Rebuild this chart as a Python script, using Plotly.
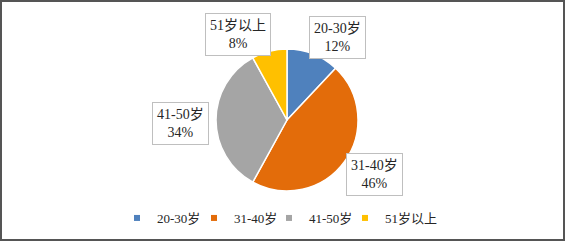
import plotly.graph_objects as go

categories = ["20-30岁", "31-40岁", "41-50岁", "51岁以上"]
values = [12, 46, 34, 8]
colors = ["#4F81BD", "#E36C0A", "#A5A5A5", "#FFC000"]

# label box centres and legend marker positions (pixels), style only
label_pos = [(337, 37), (374, 174), (180, 124), (238, 35)]
legend_x = [137, 214, 289, 365]

W, H = 566, 242
FONT = "Liberation Serif, Times New Roman, Noto Sans CJK SC, serif"

fig = go.Figure()
cx, cy, r = 287, 120, 71
fig.add_trace(go.Pie(
    labels=categories, values=values, sort=False, direction="clockwise",
    rotation=0, marker=dict(colors=colors, line=dict(color="white", width=1.5)),
    textinfo="none", hoverinfo="label+percent", showlegend=False,
    domain=dict(x=[(cx - r) / W, (cx + r) / W], y=[1 - (cy + r) / H, 1 - (cy - r) / H]),
))

legend_layout = {}
for i, (c, col, lx) in enumerate(zip(categories, colors, legend_x)):
    key = "legend" if i == 0 else f"legend{i + 1}"
    fig.add_trace(go.Scatter(x=[None], y=[None], mode="markers", name=c, legend=key,
                             marker=dict(symbol="square", size=6, color=col)))
    legend_layout[key] = dict(
        orientation="h", x=(lx - 20) / W, xanchor="left", y=1 - 218 / H, yanchor="middle",
        font=dict(family=FONT, size=13, color="#262626"), itemwidth=30,
        bgcolor="rgba(0,0,0,0)",
    )

total = sum(values)
for c, v, (px, py) in zip(categories, values, label_pos):
    fig.add_annotation(
        x=px / W, y=1 - py / H, xref="paper", yref="paper",
        xanchor="center", yanchor="middle",
        text=f"{c}<br>{round(v / total * 100)}%", showarrow=False,
        font=dict(family=FONT, size=14, color="#262626"),
        bgcolor="white", bordercolor="#BFBFBF", borderwidth=1, borderpad=4,
        align="center",
    )

fig.add_shape(type="rect", xref="paper", yref="paper", x0=1 / W, y0=2 / H,
              x1=1 - 2 / W, y1=1 - 1 / H, line=dict(color="#555555", width=2))

fig.update_layout(
    width=W, height=H, margin=dict(l=0, r=0, t=0, b=0),
    paper_bgcolor="white", plot_bgcolor="white",
    xaxis=dict(visible=False), yaxis=dict(visible=False),
    **legend_layout,
)

fig.write_html("out.html", config={"displayModeBar": False},
               post_script="document.body.style.margin='0';document.body.style.overflow='hidden';")
